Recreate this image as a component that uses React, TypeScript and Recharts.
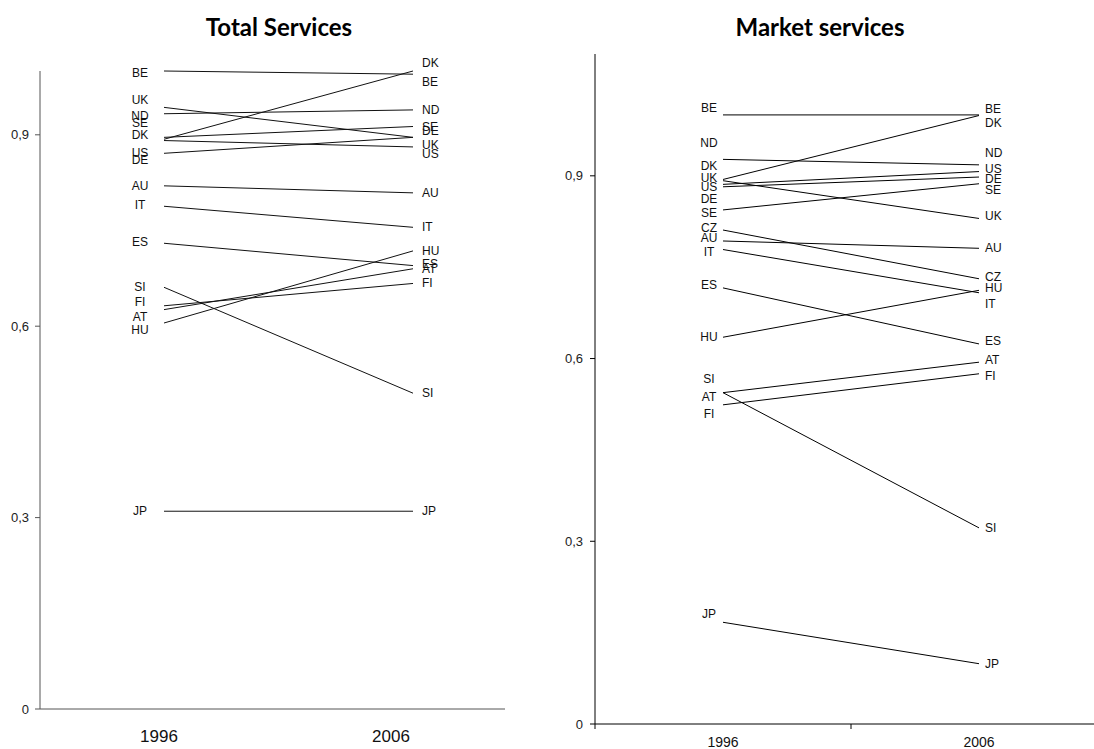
import { LineChart, Line, XAxis, YAxis } from 'recharts';

const YEARS = ['1996', '2006'];
const Y_TICKS = [0, 0.3, 0.6, 0.9];

const TOTAL_COUNTRIES = ['BE', 'UK', 'ND', 'SE', 'DK', 'US', 'DE', 'AU', 'IT', 'ES', 'SI', 'FI', 'AT', 'HU', 'JP'];
const TOTAL_1996 = [1.0, 0.943, 0.933, 0.896, 0.893, 0.891, 0.871, 0.82, 0.788, 0.73, 0.661, 0.632, 0.626, 0.605, 0.31];
const TOTAL_2006 = [0.995, 0.896, 0.939, 0.913, 1.0, 0.881, 0.896, 0.809, 0.755, 0.695, 0.495, 0.667, 0.69, 0.718, 0.31];

const MARKET_COUNTRIES = ['BE', 'ND', 'DK', 'UK', 'US', 'DE', 'SE', 'CZ', 'AU', 'IT', 'ES', 'HU', 'SI', 'AT', 'FI', 'JP'];
const MARKET_1996 = [1.0, 0.927, 0.894, 0.892, 0.886, 0.882, 0.844, 0.811, 0.793, 0.779, 0.716, 0.635, 0.544, 0.544, 0.524, 0.167];
const MARKET_2006 = [1.0, 0.918, 0.999, 0.83, 0.907, 0.898, 0.887, 0.731, 0.781, 0.708, 0.624, 0.712, 0.322, 0.594, 0.575, 0.099];

// label de-cluttering, px shift of [1996 label, 2006 label]
const TOTAL_NUDGE: Record<string, [number, number]> = {
  BE: [2, 8], UK: [-7, 8], ND: [2, 0], SE: [-14, 0], DK: [-4, -8], US: [12, 7], DE: [7, -6],
  IT: [-1, 0], ES: [-1, -2], FI: [-4, 0], AT: [7, 0], HU: [7, 0],
};
const MARKET_NUDGE: Record<string, [number, number]> = {
  BE: [-7, -6], ND: [-16, -12], DK: [-13, 7], UK: [-3, -2], US: [3, -3], DE: [12, 2], SE: [3, 6],
  CZ: [-2, -2], AU: [-3, 0], IT: [2, 11], ES: [-3, -3], HU: [0, -2], SI: [-14, 0], AT: [4, -2],
  FI: [9, 2], JP: [-8, 0],
};

const FONT = '"Liberation Sans", Arial, sans-serif';
const TITLE_FONT = 'Lato, sans-serif';

function buildRows(countries: string[], a: number[], b: number[]) {
  return YEARS.map((year, i) => {
    const row: Record<string, string | number> = { year };
    countries.forEach((c, k) => { row[c] = i === 0 ? a[k] : b[k]; });
    return row;
  });
}

const totalRows = buildRows(TOTAL_COUNTRIES, TOTAL_1996, TOTAL_2006);
const marketRows = buildRows(MARKET_COUNTRIES, MARKET_1996, MARKET_2006);

const fmt = (v: number) => (v === 0 ? '0' : String(v).replace('.', ','));

const countryLabel = (country: string, nudge: Record<string, [number, number]>, leftDx: number, rightDx: number) =>
  (props: any) => {
    const { cx, cy, index } = props;
    const [dl, dr] = nudge[country] || [0, 0];
    const first = index === 0;
    return (
      <text
        key={`${country}-${index}`}
        x={first ? cx + leftDx : cx + rightDx}
        y={cy + (first ? dl : dr)}
        textAnchor={first ? 'middle' : 'start'}
        dominantBaseline="central"
        fontSize={12}
        fontFamily={FONT}
        fill="#111"
      >
        {country}
      </text>
    );
  };

const titleStyle = {
  position: 'absolute' as const, top: 13, width: 300, textAlign: 'center' as const,
  fontFamily: TITLE_FONT, fontWeight: 700, fontSize: 24, lineHeight: '28px', color: '#000',
};

export default function App() {
  return (
    <div style={{ position: 'absolute', left: 0, top: 0, width: 1094, height: 749, background: '#fff', overflow: 'hidden', fontFamily: FONT }}>
      <div style={{ ...titleStyle, left: 129 }}>Total Services</div>
      <div style={{ ...titleStyle, left: 670 }}>Market services</div>

      {/* ── Total Services ── */}
      <div style={{ position: 'absolute', left: 0, top: 0 }}>
        <LineChart width={560} height={749} data={totalRows} margin={{ top: 71, right: 55, bottom: 0, left: 0 }}>
          <XAxis
            dataKey="year"
            padding={{ left: 124, right: 92 }}
            height={40}
            interval={0}
            tickSize={0}
            tickMargin={0}
            tickLine={false}
            axisLine={{ stroke: '#555' }}
            tick={(p: any) => (
              <text x={p.x + (p.index === 0 ? -5 : -22)} y={p.y + 27} textAnchor="middle" dominantBaseline="central" fontSize={17} fontFamily={FONT} fill="#111">
                {p.payload.value}
              </text>
            )}
          />
          <YAxis
            type="number"
            domain={[0, 1]}
            ticks={Y_TICKS}
            width={40}
            tickSize={5}
            tickMargin={6}
            tickFormatter={fmt}
            axisLine={{ stroke: '#555' }}
            tickLine={{ stroke: '#555' }}
            tick={{ fontSize: 13, fill: '#222', fontFamily: FONT }}
          />
          {TOTAL_COUNTRIES.map(c => (
            <Line
              key={c}
              dataKey={c}
              type="linear"
              stroke="#111"
              strokeWidth={1}
              dot={countryLabel(c, TOTAL_NUDGE, -24, 9)}
              activeDot={false}
              isAnimationActive={false}
            />
          ))}
        </LineChart>
      </div>

      {/* ── Market services ── */}
      <div style={{ position: 'absolute', left: 540, top: 0 }}>
        <LineChart width={554} height={749} data={marketRows} margin={{ top: 54, right: 0, bottom: 0, left: 0 }}>
          <XAxis
            dataKey="year"
            padding={{ left: 128, right: 115 }}
            height={25}
            interval={0}
            tickSize={0}
            tickMargin={0}
            tickLine={false}
            axisLine={{ stroke: '#000' }}
            tick={(p: any) => (
              <g>
                {p.index === 0 && (
                  <>
                    <line x1={p.x - 128} x2={p.x - 128} y1={p.y} y2={p.y + 5} stroke="#000" />
                    <line x1={p.x + 128} x2={p.x + 128} y1={p.y} y2={p.y + 5} stroke="#000" />
                  </>
                )}
                <text x={p.x} y={p.y + 18} textAnchor="middle" dominantBaseline="central" fontSize={14} fontFamily={FONT} fill="#111">
                  {p.payload.value}
                </text>
              </g>
            )}
          />
          <YAxis
            type="number"
            domain={[0, 1.1]}
            ticks={Y_TICKS}
            width={55}
            tickSize={5}
            tickMargin={7}
            tickFormatter={fmt}
            axisLine={{ stroke: '#000' }}
            tickLine={{ stroke: '#000' }}
            tick={{ fontSize: 13, fill: '#222', fontFamily: FONT }}
          />
          {MARKET_COUNTRIES.map(c => (
            <Line
              key={c}
              dataKey={c}
              type="linear"
              stroke="#000"
              strokeWidth={1}
              dot={countryLabel(c, MARKET_NUDGE, -14, 6)}
              activeDot={false}
              isAnimationActive={false}
            />
          ))}
        </LineChart>
      </div>
    </div>
  );
}
